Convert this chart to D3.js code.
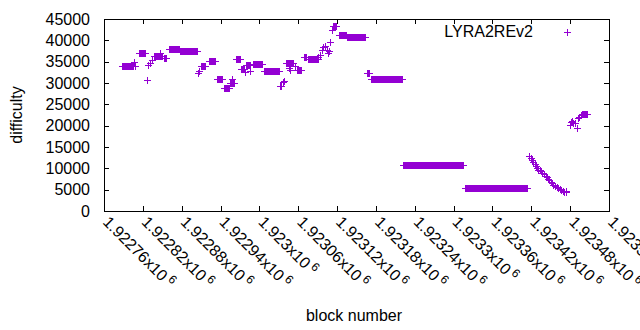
<!DOCTYPE html>
<html>
<head>
<meta charset="utf-8">
<script src="https://cdn.jsdelivr.net/npm/d3@7"></script>
<style>
  body { margin: 0; background: #fff; }
  text { font-family: "Liberation Sans", Arial, sans-serif; fill: #000; }
</style>
</head>
<body>
<div id="chart"></div>
<script>
// difficulty runs: constant value from runStart to runEnd (every block)
var runStart = [1922788, 1922814, 1922837, 1922853, 1922860, 1922877, 1922910, 1922922, 1922935, 1922945,
                1922955, 1922964, 1922971, 1922979, 1922990, 1923007, 1923032, 1923041, 1923058, 1923069,
                1923075, 1923114, 1923123, 1923135, 1923166, 1923172, 1923222, 1923318, 1923498];
var runEnd   = [1922805, 1922823, 1922850, 1922856, 1922876, 1922904, 1922916, 1922931, 1922942, 1922953,
                1922961, 1922970, 1922976, 1922985, 1923004, 1923030, 1923033, 1923052, 1923064, 1923072,
                1923090, 1923118, 1923134, 1923163, 1923169, 1923220, 1923314, 1923413, 1923506];
var runDiff  = [33900, 37000, 36300, 35800, 38000, 37600, 33900, 35100, 30900, 28800,
                30000, 35600, 33200, 34200, 34400, 32900, 29300, 34800, 33000, 36100,
                35550, 43300, 41200, 40700, 32300, 30900, 10700, 5300, 22650];

// single blocks
var pointBlock = [1922807, 1922808, 1922826, 1922828, 1922831, 1922834, 1922846, 1922905, 1922907, 1922958,
                  1922978, 1922986, 1923036, 1923038, 1923046, 1923047, 1923055, 1923091, 1923094, 1923097,
                  1923098, 1923101, 1923104, 1923106, 1923108, 1923109, 1923112,
                  1923417, 1923419, 1923421, 1923423, 1923425, 1923427, 1923429, 1923431, 1923433, 1923435,
                  1923437, 1923440, 1923442, 1923444, 1923446, 1923448, 1923450, 1923452, 1923454, 1923457,
                  1923459, 1923461, 1923464, 1923466, 1923469, 1923471, 1923473, 1923474,
                  1923479, 1923481, 1923483, 1923485, 1923487, 1923490, 1923492, 1923494, 1923496];
var pointDiff  = [35000, 34100, 30700, 34200, 34700, 35300, 37000, 32400, 32800, 30900,
                  32600, 32800, 30200, 30500, 33500, 33000, 33900, 36100, 36600, 37700,
                  38400, 38600, 37800, 37000, 37500, 39700, 42500,
                  12800, 12400, 11900, 11500, 11000, 10500, 10000, 9700, 9500, 9300,
                  9000, 8600, 8200, 7900, 7500, 7200, 6800, 6500, 6200, 5900,
                  5600, 5400, 5100, 4900, 4700, 4500, 4400, 4600,
                  20200, 20900, 21200, 20700, 20600, 19400, 21700, 22100, 22400];

var xTicks = [1922760, 1922820, 1922880, 1922940, 1923000, 1923060, 1923120,
              1923180, 1923240, 1923300, 1923360, 1923420, 1923480, 1923540];
var yTicks = [0, 5000, 10000, 15000, 20000, 25000, 30000, 35000, 40000, 45000];
var seriesName = "LYRA2REv2";

var svgWidth = 640;
var svgHeight = 330;
var margin = {top: 19, right: 31, bottom: 119, left: 104};
var width = svgWidth - margin.left - margin.right;
var height = svgHeight - margin.top - margin.bottom;
var color = "#9400d3";
var ps = 3.5;

var svg = d3.select("#chart").append("svg")
    .attr("width", svgWidth)
    .attr("height", svgHeight);

var chartGroup = svg.append("g")
    .attr("transform", `translate(${margin.left},${margin.top})`);

var xScale = d3.scaleLinear().domain([xTicks[0], xTicks[xTicks.length - 1]]).range([0, width]);
var yScale = d3.scaleLinear().domain([0, 45000]).range([height, 0]);

// build the data
var Data = [];
runStart.forEach(function(s, i) {
    for (var b = s; b <= runEnd[i]; b++) Data.push({block: b, diff: runDiff[i]});
});
pointBlock.forEach(function(b, i) { Data.push({block: b, diff: pointDiff[i]}); });

// axes, gnuplot style: ticks inside on all sides
function tickStyle(g) {
    g.select(".domain").remove();
    g.selectAll("line").attr("stroke", "#000").attr("shape-rendering", "crispEdges");
    g.selectAll("text").style("font-size", "16px").attr("fill", "#000");
}

chartGroup.append("g")
    .call(d3.axisLeft(yScale).tickValues(yTicks).tickSize(-5).tickPadding(14).tickFormat(d3.format("d")))
    .call(tickStyle);
chartGroup.append("g")
    .attr("transform", `translate(${width},0)`)
    .call(d3.axisRight(yScale).tickValues(yTicks.slice(1, -1)).tickSize(-5).tickFormat(""))
    .call(tickStyle);
chartGroup.append("g")
    .attr("transform", `translate(0,${height})`)
    .call(d3.axisBottom(xScale).tickValues(xTicks.slice(1, -1)).tickSize(-5).tickFormat(""))
    .call(tickStyle);
chartGroup.append("g")
    .call(d3.axisTop(xScale).tickValues(xTicks.slice(1, -1)).tickSize(-5).tickFormat(""))
    .call(tickStyle);

// rotated x labels with superscript exponent
var xLab = chartGroup.append("g").selectAll("text")
    .data(xTicks)
    .enter()
    .append("text")
    .attr("transform", d => `translate(${xScale(d) - 2},${height + 12}) rotate(45)`)
    .style("font-size", "16px");
xLab.append("tspan").text(d => String(+(d / 1e6).toFixed(5)) + "x10");
xLab.append("tspan").attr("dx", 3).attr("dy", -6).style("font-size", "12px").text("6");

chartGroup.append("rect")
    .attr("width", width)
    .attr("height", height)
    .attr("fill", "none")
    .attr("stroke", "#000")
    .attr("shape-rendering", "crispEdges");

// points as "+" markers
var pts = chartGroup.append("g")
    .attr("stroke", color)
    .attr("stroke-width", 1)
    .attr("shape-rendering", "crispEdges");

function plus(g, x, y) {
    g.append("line").attr("x1", x - ps).attr("x2", x + ps).attr("y1", y).attr("y2", y);
    g.append("line").attr("x1", x).attr("x2", x).attr("y1", y - ps).attr("y2", y + ps);
}

Data.forEach(function(d) {
    plus(pts, Math.round(xScale(d.block)) + 0.5, Math.round(yScale(d.diff)) + 0.5);
});

// legend
chartGroup.append("text")
    .attr("x", 429)
    .attr("y", 18)
    .attr("text-anchor", "end")
    .style("font-size", "16px")
    .text(seriesName);
plus(pts, 463.5, 13.5);

// axis titles
svg.append("text")
    .attr("transform", "translate(22,115) rotate(-90)")
    .attr("text-anchor", "middle")
    .style("font-size", "16px")
    .text("difficulty");

svg.append("text")
    .attr("x", 354)
    .attr("y", 321)
    .attr("text-anchor", "middle")
    .style("font-size", "16px")
    .text("block number");
</script>
</body>
</html>
